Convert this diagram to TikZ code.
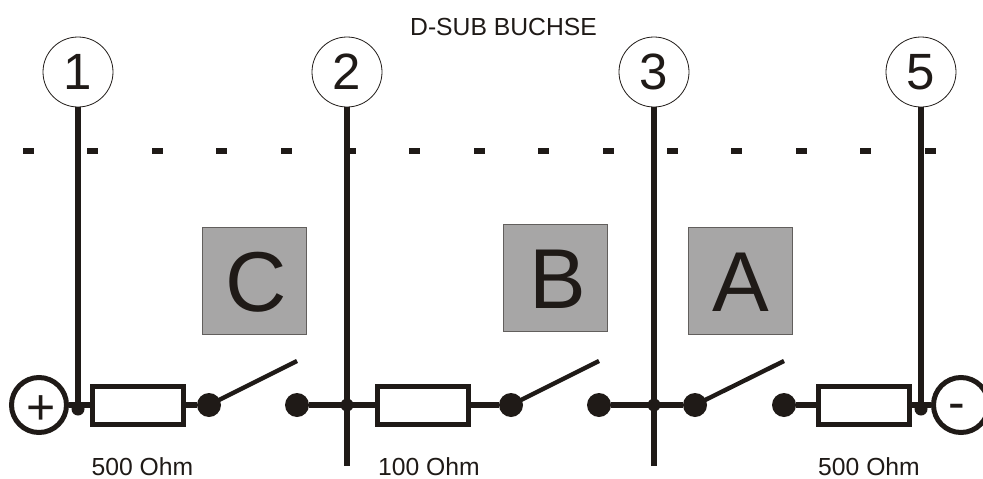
\documentclass[tikz,border=0pt]{standalone}
\usepackage{fontspec}
\setmainfont{Liberation Sans}
\definecolor{ink}{HTML}{1F1A17}
\definecolor{boxgrey}{HTML}{A7A6A6}
\tikzset{
  x=1pt,y=-1pt,
  wire/.style={draw=ink,line width=5.6pt},
  thin wire/.style={draw=ink,line width=4.4pt},
  pin/.style={circle,draw=ink,line width=0.8pt,fill=white,minimum size=70pt,inner sep=0pt,text=ink,font=\fontsize{51}{51}\selectfont},
  pole/.style={circle,draw=ink,line width=5pt,fill=white,minimum size=55pt,inner sep=0pt},
  polesign/.style={inner sep=0pt,text=ink,font=\fontsize{50}{50}\selectfont},
  resistor/.style={rectangle,draw=ink,line width=5pt,fill=white,minimum width=91pt,minimum height=38pt,inner sep=0pt},
  contact/.style={circle,fill=ink,minimum size=24pt,inner sep=0pt},
  joint/.style={circle,fill=ink,minimum size=13pt,inner sep=0pt},
  letterbox/.style={rectangle,draw=ink!70,line width=0.4pt,fill=boxgrey,minimum width=103.5pt,minimum height=107pt,inner sep=0pt},
  boxletter/.style={inner sep=0pt,text=ink,font=\fontsize{85}{85}\selectfont},
  caption/.style={text=ink,font=\fontsize{24.7}{24.7}\selectfont,inner sep=0pt},
  dashmark/.style={rectangle,fill=ink,minimum width=11pt,minimum height=6pt,inner sep=0pt}
}
\begin{document}
\begin{tikzpicture}
\useasboundingbox (0,0) rectangle (983,479);
% dashed border line
\foreach \i in {0,...,14}{
  \node[dashmark] (d\i) at ({28.5+64.4*\i},151) {};
}
% pins
\node[pin] (p1) at (78,72) {1};
\node[pin] (p2) at (347,72) {2};
\node[pin] (p3) at (654,72) {3};
\node[pin] (p5) at (921,72) {5};
% junctions and free ends
\node[joint] (j1) at (78,409) {};
\node[joint] (j2) at (347,405) {};
\node[joint] (j3) at (654,405) {};
\node[joint] (j5) at (921,409) {};
\coordinate (e2) at (347,466);
\coordinate (e3) at (654,466);
% poles
\node[pole] (plus) at (39,405) {};
\node[pole] (minus) at (961,405) {};
\node[polesign] (plustext) at (41,410) {+};
\node[polesign] (minustext) at (957,412) {-};
% resistors
\node[resistor] (r1) at (138,405) {};
\node[resistor] (r2) at (423,405) {};
\node[resistor] (r3) at (864,405) {};
% contacts
\node[contact] (c1a) at (209,405) {};
\node[contact] (c1b) at (297,405) {};
\node[contact] (c2a) at (511,405) {};
\node[contact] (c2b) at (599,405) {};
\node[contact] (c3a) at (695,405) {};
\node[contact] (c3b) at (784,405) {};
\coordinate (s1) at (297,361);
\coordinate (s2) at (599,361);
\coordinate (s3) at (784,361);
% verticals
\draw[wire] (p1.south) -- (j1.center);
\draw[wire] (p2.south) -- (e2);
\draw[wire] (p3.south) -- (e3);
\draw[wire] (p5.south) -- (j5.center);
% horizontals
\draw[wire] (plus.east) -- (r1.west);
\draw[wire] (r1.east) -- (c1a);
\draw[wire] (c1b) -- (r2.west);
\draw[wire] (r2.east) -- (c2a);
\draw[wire] (c2b) -- (c3a);
\draw[wire] (c3b) -- (r3.west);
\draw[wire] (r3.east) -- (minus.west);
% switch arms
\draw[thin wire] (c1a.center) -- (s1);
\draw[thin wire] (c2a.center) -- (s2);
\draw[thin wire] (c3a.center) -- (s3);
% letter boxes
\node[letterbox] (C) at (254,280.5) {};
\node[letterbox] (B) at (555,277.5) {};
\node[letterbox] (A) at (740,280.5) {};
\node[boxletter] (Ct) at (256,282) {C};
\node[boxletter] (Bt) at (558,279) {B};
\node[boxletter] (At) at (741,282) {A};
% captions
\node[caption] (title) at (503.5,27) {D-SUB BUCHSE};
\node[caption] (l1) at (142.5,466.5) {500 Ohm};
\node[caption] (l2) at (429,466.5) {100 Ohm};
\node[caption] (l3) at (869,466.5) {500 Ohm};
\end{tikzpicture}
\end{document}
